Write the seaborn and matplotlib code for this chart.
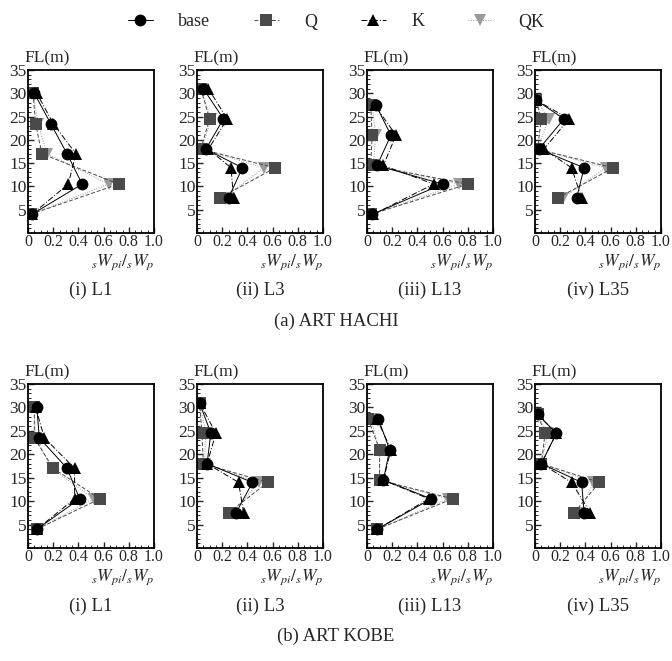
import numpy as np
import pandas as pd
import seaborn as sns
import matplotlib.pyplot as plt
from matplotlib.ticker import MultipleLocator

# floor heights (m) for each wall line, bottom to top
fl_levels = {
    'L1': [4, 10.5, 17, 23.5, 30],
    'L3': [7.5, 14, 18, 24.5, 31],
    'L13': [4, 10.5, 14.5, 21, 27.5],
    'L35': [7.5, 14, 18, 24.5, 28.5],
}
lines = ['L1', 'L3', 'L13', 'L35']
line_titles = ['(i) L1', '(ii) L3', '(iii) L13', '(iv) L35']
cases = ['base', 'Q', 'K', 'QK']

# sWpi/sWp, one list per wall line (L1, L3, L13, L35)
hachi_base = [[0.03, 0.43, 0.31, 0.18, 0.05], [0.25, 0.36, 0.07, 0.21, 0.05],
              [0.04, 0.60, 0.08, 0.19, 0.07], [0.33, 0.39, 0.03, 0.23, 0.01]]
hachi_Q = [[0.02, 0.72, 0.11, 0.06, 0.04], [0.18, 0.62, 0.03, 0.10, 0.03],
           [0.03, 0.80, 0.03, 0.04, 0.03], [0.18, 0.62, 0.02, 0.05, 0.01]]
hachi_K = [[0.03, 0.32, 0.38, 0.20, 0.07], [0.29, 0.27, 0.09, 0.24, 0.09],
           [0.05, 0.53, 0.13, 0.23, 0.06], [0.37, 0.29, 0.07, 0.27, 0.01]]
hachi_QK = [[0.02, 0.64, 0.15, 0.08, 0.04], [0.21, 0.53, 0.04, 0.11, 0.03],
            [0.03, 0.73, 0.05, 0.07, 0.04], [0.22, 0.56, 0.02, 0.11, 0.01]]

kobe_base = [[0.07, 0.41, 0.31, 0.09, 0.07], [0.31, 0.44, 0.08, 0.11, 0.02],
             [0.08, 0.51, 0.13, 0.18, 0.09], [0.39, 0.37, 0.05, 0.17, 0.02]]
kobe_Q = [[0.07, 0.57, 0.20, 0.05, 0.05], [0.25, 0.56, 0.05, 0.04, 0.02],
          [0.08, 0.68, 0.10, 0.10, 0.01], [0.31, 0.51, 0.05, 0.08, 0.02]]
kobe_K = [[0.07, 0.37, 0.37, 0.13, 0.06], [0.37, 0.33, 0.08, 0.15, 0.02],
          [0.08, 0.49, 0.13, 0.19, 0.08], [0.44, 0.29, 0.05, 0.17, 0.02]]
kobe_QK = [[0.07, 0.52, 0.19, 0.06, 0.05], [0.28, 0.49, 0.06, 0.07, 0.02],
           [0.08, 0.64, 0.10, 0.10, 0.03], [0.36, 0.46, 0.05, 0.10, 0.02]]

waves = [
    ('(a) ART HACHI', {'base': hachi_base, 'Q': hachi_Q, 'K': hachi_K, 'QK': hachi_QK}),
    ('(b) ART KOBE', {'base': kobe_base, 'Q': kobe_Q, 'K': kobe_K, 'QK': kobe_QK}),
]

sns.set_style('white')
plt.rcParams['font.family'] = ['Liberation Serif', 'DejaVu Serif']
plt.rcParams['mathtext.fontset'] = 'stix'

palette = {'base': 'black', 'Q': '#4a4a4a', 'K': 'black', 'QK': '#9a9a9a'}
markers = {'base': 'o', 'Q': 's', 'K': '^', 'QK': 'v'}
dashes = {'base': '', 'Q': (4, 2), 'K': (6, 2, 1, 2), 'QK': (1, 1.5)}
draw_order = ['QK', 'Q', 'K', 'base']

fig = plt.figure(figsize=(6.72, 6.61), dpi=100)
W, H = 672, 661
lefts = [28, 197, 367, 535]
rows = [(70, 233), (384, 548)]  # top, bottom in pixels

for r, (wave_title, data) in enumerate(waves):
    top, bot = rows[r]
    for c, ln in enumerate(lines):
        ax = fig.add_axes([lefts[c] / W, 1 - bot / H, 126 / W, (bot - top) / H])
        recs = []
        for case in cases:
            for fl, v in zip(fl_levels[ln], data[case][c]):
                recs.append({'FL': fl, 'ratio': v, 'case': case})
        df = pd.DataFrame(recs)
        sns.lineplot(data=df, x='ratio', y='FL', hue='case', style='case',
                     hue_order=draw_order, style_order=draw_order,
                     palette=palette, markers=markers, dashes=dashes,
                     sort=False, estimator=None, linewidth=0.7,
                     markersize=8.5, markeredgewidth=0, ax=ax, legend=(r == 0 and c == 0))
        if r == 0 and c == 0:
            handles, labels = ax.get_legend_handles_labels()
            ax.get_legend().remove()
            hmap = dict(zip(labels, handles))
        ax.set_xlim(0, 1.0)
        ax.set_ylim(0, 35)
        ax.set_xticks([0, 0.2, 0.4, 0.6, 0.8, 1.0])
        ax.set_xticklabels(['0', '0.2', '0.4', '0.6', '0.8', '1.0'])
        ax.set_yticks([5, 10, 15, 20, 25, 30, 35])
        ax.xaxis.set_minor_locator(MultipleLocator(0.05))
        ax.yaxis.set_minor_locator(MultipleLocator(1))
        ax.tick_params(which='both', direction='in', bottom=True, left=True,
                       top=False, right=False, pad=1)
        ax.tick_params(axis='y', labelsize=12.5)
        ax.tick_params(axis='x', labelsize=11.5)
        ax.tick_params(which='major', length=4, width=1)
        ax.tick_params(which='minor', length=2, width=0.7)
        for s in ax.spines.values():
            s.set_linewidth(1.3)
            s.set_color('black')
        ax.set_xlabel('')
        ax.set_ylabel('')
        ax.text(-0.03, 1.02, 'FL(m)', transform=ax.transAxes, fontsize=12.5,
                ha='left', va='bottom')
        ax.text(1.0, -0.12, r'$_{s}W_{pi}/_{s}W_{p}$', transform=ax.transAxes,
                fontsize=12.5, ha='right', va='top')
        ax.text(0.5, -0.30, line_titles[c], transform=ax.transAxes, fontsize=13.5,
                ha='center', va='top')
    fig.text(0.5, 1 - (bot + 88) / H, wave_title, fontsize=13.5, ha='center', va='center')

fig.legend([hmap[k] for k in cases], cases, loc='center', bbox_to_anchor=(0.5, 1 - 22 / H),
           ncol=4, frameon=False, fontsize=13, handlelength=1.4, handletextpad=1.4,
           columnspacing=2.4, markerscale=1.0)

fig.savefig('out.png', dpi=100)
